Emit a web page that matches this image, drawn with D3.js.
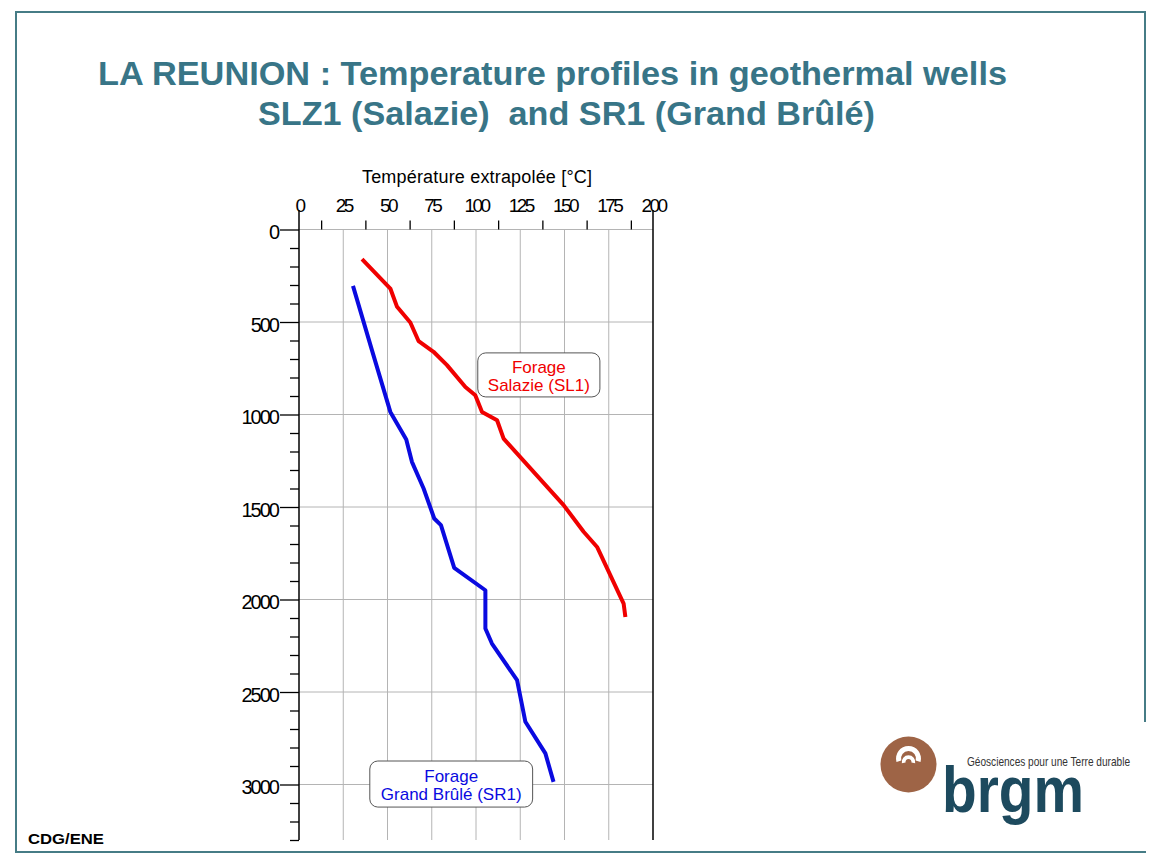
<!DOCTYPE html>
<html>
<head>
<meta charset="utf-8">
<script src="https://cdn.jsdelivr.net/npm/d3@7"></script>
<style>
  body { margin: 0; background: #fff; }
  svg { display: block; font-family: "Liberation Sans", Arial, sans-serif; }
</style>
</head>
<body>
<div id="chart"></div>
<script>
// Temperature (°C) vs depth (m)
var slzTemp  = [35.6, 51.6, 55.4, 62.9, 67.6, 76.0, 83.6, 94.0, 99.6, 103.4, 111.9, 115.6, 149.5, 160.8, 168.4, 183.4, 184.4];
var slzDepth = [160, 319, 418, 503, 604, 661, 733, 851, 896, 986, 1031, 1130, 1490, 1634, 1716, 2022, 2094];

var srTemp  = [30.5, 41.2, 51.6, 60.6, 63.8, 70.4, 76.4, 80.2, 87.7, 105.3, 105.3, 109.0, 123.2, 127.9, 139.2, 143.8];
var srDepth = [305, 652, 986, 1135, 1256, 1400, 1562, 1598, 1829, 1950, 2157, 2238, 2436, 2661, 2832, 2986];

var tempTicks  = [0, 25, 50, 75, 100, 125, 150, 175, 200];
var depthTicks = [0, 500, 1000, 1500, 2000, 2500, 3000];

var width = 1162, height = 859;
var titleColor = "#387587";

var svg = d3.select("#chart").append("svg")
  .attr("width", width)
  .attr("height", height);

// slide frame
svg.append("rect")
  .attr("x", 16).attr("y", 12)
  .attr("width", 1129).attr("height", 840)
  .attr("fill", "none")
  .attr("stroke", "#467c86")
  .attr("stroke-width", 2);

// title
var title = svg.append("g")
  .attr("fill", titleColor)
  .attr("font-weight", "bold")
  .attr("font-size", "34px");
title.append("text")
  .attr("x", 98).attr("y", 85)
  .attr("textLength", 909).attr("lengthAdjust", "spacingAndGlyphs")
  .text("LA REUNION : Temperature profiles in geothermal wells");
title.append("text")
  .attr("x", 258).attr("y", 125)
  .attr("textLength", 617).attr("lengthAdjust", "spacingAndGlyphs")
  .text("SLZ1 (Salazie) \u00a0and SR1 (Grand Br\u00fbl\u00e9)");

// scales
var x = d3.scaleLinear().domain([0, 200]).range([299, 653]);
var y = d3.scaleLinear().domain([0, 3300]).range([229.5, 840]);

// grid
var grid = svg.append("g").attr("stroke", "#b4b4b4").attr("stroke-width", 1);
grid.selectAll(".vg")
  .data(tempTicks.slice(1, -1))
  .enter().append("line")
  .attr("x1", function(d) { return x(d); })
  .attr("x2", function(d) { return x(d); })
  .attr("y1", y(0)).attr("y2", y(3300));
grid.selectAll(".hg")
  .data(depthTicks)
  .enter().append("line")
  .attr("x1", x(0)).attr("x2", x(200))
  .attr("y1", function(d) { return y(d); })
  .attr("y2", function(d) { return y(d); });

// frame verticals at 0 and 200 (extend up to the labels)
svg.selectAll(".edge")
  .data([0, 200])
  .enter().append("line")
  .attr("x1", function(d) { return x(d); })
  .attr("x2", function(d) { return x(d); })
  .attr("y1", 210).attr("y2", y(3300))
  .attr("stroke", "#000").attr("stroke-width", 1.5);

// top axis: minor ticks + labels
var minorT = d3.range(12.5, 200, 25);
var topMinor = svg.append("g")
  .attr("transform", "translate(0," + y(0) + ")")
  .call(d3.axisTop(x).tickValues(minorT).tickSize(9).tickFormat(""));
topMinor.select(".domain").remove();
topMinor.selectAll("line").attr("stroke-width", 1.3);

var topAxis = svg.append("g")
  .attr("transform", "translate(0," + y(0) + ")")
  .call(d3.axisTop(x).tickValues(tempTicks).tickSize(0).tickPadding(18));
topAxis.select(".domain").remove();
topAxis.selectAll("text")
  .attr("font-size", "19px")
  .attr("font-family", "'Liberation Sans', Arial, sans-serif")
  .attr("letter-spacing", "-2.5px")
  .attr("fill", "#000");

svg.append("text")
  .attr("x", 362).attr("y", 183)
  .attr("font-size", "18px")
  .attr("textLength", 230).attr("lengthAdjust", "spacing")
  .text("Temp\u00e9rature extrapol\u00e9e [\u00b0C]");

// left axis: minor ticks every 100 m + major labels
var minorD = d3.range(0, 3301, 100).filter(function(d) { return d % 500 !== 0; });
var leftMinor = svg.append("g")
  .attr("transform", "translate(" + x(0) + ",0)")
  .call(d3.axisLeft(y).tickValues(minorD).tickSize(9).tickFormat(""));
leftMinor.select(".domain").remove();
leftMinor.selectAll("line").attr("stroke-width", 1.3);

var leftAxis = svg.append("g")
  .attr("transform", "translate(" + x(0) + ",0)")
  .call(d3.axisLeft(y).tickValues(depthTicks).tickSize(19).tickPadding(2).tickFormat(d3.format("d")));
leftAxis.select(".domain").remove();
leftAxis.selectAll("line").attr("stroke-width", 1.3);
leftAxis.selectAll("text")
  .attr("font-size", "20px")
  .attr("font-family", "'Liberation Sans', Arial, sans-serif")
  .attr("letter-spacing", "-2px")
  .attr("dy", "0.45em")
  .attr("fill", "#000");

// profiles
var line = d3.line()
  .x(function(d) { return x(d[0]); })
  .y(function(d) { return y(d[1]); });

svg.append("path")
  .datum(d3.zip(slzTemp, slzDepth))
  .attr("d", line)
  .attr("fill", "none")
  .attr("stroke", "#f00000")
  .attr("stroke-width", 4)
  .attr("stroke-linejoin", "round");

svg.append("path")
  .datum(d3.zip(srTemp, srDepth))
  .attr("d", line)
  .attr("fill", "none")
  .attr("stroke", "#0a0ae0")
  .attr("stroke-width", 4)
  .attr("stroke-linejoin", "round");

// labels in rounded boxes
var notes = [
  { t0: 101, t1: 170, z0: 667, z1: 905, color: "#f00000", lines: ["Forage", "Salazie (SL1)"] },
  { t0: 40,  t1: 132, z0: 2873, z1: 3122, color: "#0a0ae0", lines: ["Forage", "Grand Br\u00fbl\u00e9 (SR1)"] }
];
notes.forEach(function(n) {
  var g = svg.append("g");
  g.append("rect")
    .attr("x", x(n.t0)).attr("y", y(n.z0))
    .attr("width", x(n.t1) - x(n.t0))
    .attr("height", y(n.z1) - y(n.z0))
    .attr("rx", 8)
    .attr("fill", "#fff")
    .attr("stroke", "#555")
    .attr("stroke-width", 1);
  var cx = (x(n.t0) + x(n.t1)) / 2;
  var cy = (y(n.z0) + y(n.z1)) / 2;
  g.selectAll("text")
    .data(n.lines)
    .enter().append("text")
    .attr("x", cx)
    .attr("y", function(d, i) { return cy - 2 + i * 18; })
    .attr("text-anchor", "middle")
    .attr("font-size", "17px")
    .attr("fill", n.color)
    .text(function(d) { return d; });
});

// footer
svg.append("text")
  .attr("x", 28).attr("y", 844)
  .attr("font-size", "15px")
  .attr("font-weight", "bold")
  .attr("textLength", 76).attr("lengthAdjust", "spacingAndGlyphs")
  .text("CDG/ENE");

// logo
var logo = svg.append("g");
logo.append("rect")
  .attr("x", 866).attr("y", 722)
  .attr("width", 282).attr("height", 129)
  .attr("fill", "#fff");
logo.append("circle")
  .attr("cx", 908.5).attr("cy", 764.5).attr("r", 28)
  .attr("fill", "#9e6446");
logo.append("path")
  .attr("transform", "translate(908.5,758.5)")
  .attr("d", d3.arc()({ innerRadius: 7.5, outerRadius: 12.5, startAngle: -1.85, endAngle: 1.85 }))
  .attr("fill", "#fff");
logo.append("path")
  .attr("transform", "translate(908.5,762)")
  .attr("d", d3.arc()({ innerRadius: 3, outerRadius: 6.8, startAngle: -1.75, endAngle: 1.75 }))
  .attr("fill", "#fff");
logo.append("text")
  .attr("x", 967).attr("y", 766)
  .attr("font-size", "13px")
  .attr("fill", "#333")
  .attr("textLength", 163).attr("lengthAdjust", "spacingAndGlyphs")
  .text("G\u00e9osciences pour une Terre durable");
logo.append("text")
  .attr("x", 942).attr("y", 812)
  .attr("font-size", "64px")
  .attr("font-weight", "bold")
  .attr("fill", "#1d4a5e")
  .attr("textLength", 142).attr("lengthAdjust", "spacingAndGlyphs")
  .text("brgm");
</script>
</body>
</html>
